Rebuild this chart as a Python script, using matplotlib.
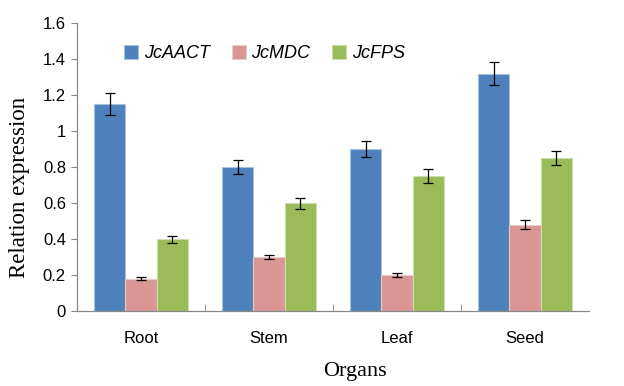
import numpy as np
import matplotlib.pyplot as plt
from matplotlib.ticker import FixedLocator

organs = ['Root', 'Stem', 'Leaf', 'Seed']
genes = ['JcAACT', 'JcMDC', 'JcFPS']
aact = [1.15, 0.80, 0.90, 1.32]
aact_err = [0.06, 0.04, 0.045, 0.065]
mdc = [0.18, 0.30, 0.20, 0.48]
mdc_err = [0.008, 0.012, 0.012, 0.025]
fps = [0.40, 0.60, 0.75, 0.85]
fps_err = [0.02, 0.03, 0.04, 0.04]
yticks = [0, 0.2, 0.4, 0.6, 0.8, 1.0, 1.2, 1.4, 1.6]
ylabels = ['0', '0.2', '0.4', '0.6', '0.8', '1', '1.2', '1.4', '1.6']
colors = ['#4F81BD', '#D99694', '#9BBB59']
edges = ['#A7C0DE', '#ECCAC9', '#CDDDAC']

fig = plt.figure(figsize=(6.24, 3.86), dpi=100)
ax = fig.add_axes([0.1234, 0.194, 0.8206, 0.746])

x = np.arange(len(organs))
w = 0.245
for i, (vals, errs) in enumerate([(aact, aact_err), (mdc, mdc_err), (fps, fps_err)]):
    ax.bar(x + (i - 1) * w, vals, w, color=colors[i], edgecolor=edges[i], linewidth=0.8,
           label=genes[i], zorder=2)
    ax.errorbar(x + (i - 1) * w, vals, yerr=errs, fmt='none', ecolor='black',
                elinewidth=0.9, capsize=3.5, capthick=0.9, zorder=3)

ax.set_xlim(-0.5, len(organs) - 0.5)
ax.set_ylim(0, 1.6)
ax.set_yticks(yticks)
ax.set_yticklabels(ylabels, family='Liberation Sans', fontsize=12)
ax.set_xticks(x)
ax.set_xticklabels(organs, family='Liberation Sans', fontsize=12)
ax.tick_params(axis='x', which='major', length=0, pad=14)
ax.xaxis.set_minor_locator(FixedLocator([0.5, 1.5, 2.5]))
ax.tick_params(axis='x', which='minor', direction='in', length=5, color='#888888')
ax.tick_params(axis='y', length=4, color='#888888', pad=4)

for s in ['top', 'right']:
    ax.spines[s].set_visible(False)
for s in ['left', 'bottom']:
    ax.spines[s].set_color('#888888')
    ax.spines[s].set_linewidth(0.9)

ax.set_ylabel('Relation expression', family='Liberation Serif', fontsize=16.5)
ax.yaxis.set_label_coords(-0.092, 0.43)
ax.set_xlabel('Organs', family='Liberation Serif', fontsize=16)
ax.xaxis.set_label_coords(0.543, -0.175)

leg = ax.legend(loc='upper left', bbox_to_anchor=(0.06, 0.98), ncol=3, frameon=False,
                prop={'family': 'Liberation Sans', 'style': 'italic', 'size': 13},
                handlelength=0.8, handleheight=0.8, handletextpad=0.3, columnspacing=1.2)

fig.savefig('out.png', dpi=100)
